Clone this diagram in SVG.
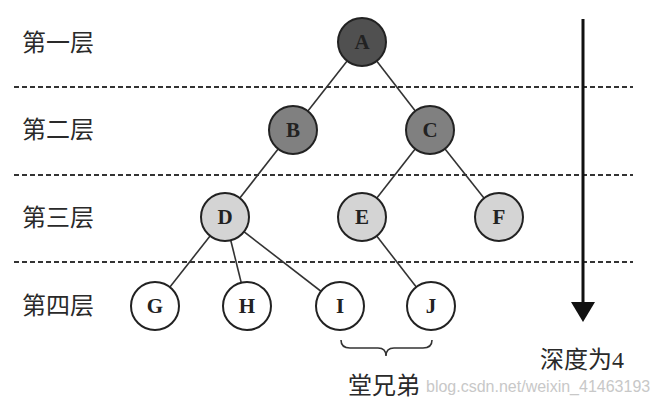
<svg xmlns="http://www.w3.org/2000/svg" width="659" height="405" viewBox="0 0 659 405">
<style>
.lbl{font-family:"Liberation Serif","Noto Sans CJK SC",serif;font-size:24px;fill:#2a2a2a}
.nd circle{stroke:#222;stroke-width:2}
.nd text{font-family:"Liberation Serif",serif;font-size:21px;font-weight:bold;fill:#222;text-anchor:middle}
.l1{fill:#505050}
.l2{fill:#808080}
.l3{fill:#d4d4d4}
.l4{fill:#fff}
.dash{stroke:#333;stroke-width:2;stroke-dasharray:5,3}
.edge{stroke:#333;stroke-width:1.6;fill:none}
</style>
<defs>
<marker id="arr" markerWidth="20" markerHeight="24" refX="0" refY="12" orient="auto" markerUnits="userSpaceOnUse" viewBox="0 0 20 24">
<path d="M0,0 L20,12 L0,24 Z" fill="#111"/>
</marker>
</defs>
<rect width="659" height="405" fill="#fff"/>
<g id="levels">
<line class="dash" x1="14" y1="87" x2="633" y2="87"/>
<line class="dash" x1="14" y1="175" x2="633" y2="175"/>
<line class="dash" x1="14" y1="262" x2="633" y2="262"/>
<text class="lbl" x="22" y="51">第一层</text>
<text class="lbl" x="22" y="138">第二层</text>
<text class="lbl" x="22" y="226">第三层</text>
<text class="lbl" x="22" y="314">第四层</text>
</g>
<g id="connectors">
<line class="edge" x1="362" y1="42" x2="293" y2="130"/>
<line class="edge" x1="362" y1="42" x2="430" y2="130"/>
<line class="edge" x1="293" y1="130" x2="225" y2="217"/>
<line class="edge" x1="430" y1="130" x2="362" y2="217"/>
<line class="edge" x1="430" y1="130" x2="499" y2="217"/>
<line class="edge" x1="225" y1="217" x2="155" y2="306"/>
<line class="edge" x1="225" y1="217" x2="247" y2="306"/>
<line class="edge" x1="225" y1="217" x2="340" y2="306"/>
<line class="edge" x1="362" y1="217" x2="431" y2="306"/>
</g>
<g id="A" class="nd"><circle class="l1" cx="362" cy="42" r="24"/><text x="362" y="49">A</text></g>
<g id="B" class="nd"><circle class="l2" cx="293" cy="130" r="24"/><text x="293" y="137">B</text></g>
<g id="C" class="nd"><circle class="l2" cx="430" cy="130" r="24"/><text x="430" y="137">C</text></g>
<g id="D" class="nd"><circle class="l3" cx="225" cy="217" r="24"/><text x="225" y="224">D</text></g>
<g id="E" class="nd"><circle class="l3" cx="362" cy="217" r="24"/><text x="362" y="224">E</text></g>
<g id="F" class="nd"><circle class="l3" cx="499" cy="217" r="24"/><text x="499" y="224">F</text></g>
<g id="G" class="nd"><circle class="l4" cx="155" cy="306" r="24"/><text x="155" y="313">G</text></g>
<g id="H" class="nd"><circle class="l4" cx="247" cy="306" r="24"/><text x="247" y="313">H</text></g>
<g id="I" class="nd"><circle class="l4" cx="340" cy="306" r="24"/><text x="340" y="313">I</text></g>
<g id="J" class="nd"><circle class="l4" cx="431" cy="306" r="24"/><text x="431" y="313">J</text></g>
<g id="depth">
<line x1="583" y1="19" x2="583" y2="302" stroke="#111" stroke-width="3" marker-end="url(#arr)"/>
<text class="lbl" x="540" y="368">深度为4</text>
</g>
<g id="cousins">
<path class="edge" d="M341,340 Q341,348 350,348 L378,348 Q386,348 386,356 Q386,348 394,348 L423,348 Q432,348 432,340"/>
<text class="lbl" x="348" y="394">堂兄弟</text>
<text x="426" y="392" font-family="Liberation Sans,sans-serif" font-size="16" fill="#c8c8c8">blog.csdn.net/weixin_41463193</text>
</g>
</svg>
